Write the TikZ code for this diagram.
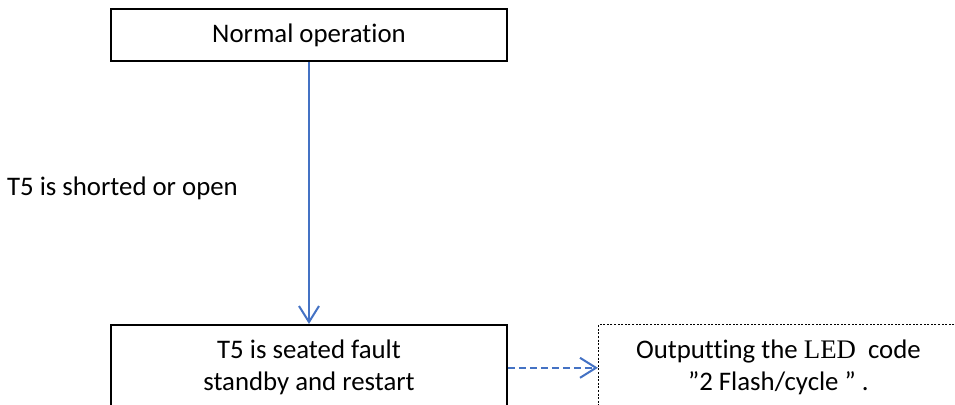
\documentclass[tikz,border=0pt]{standalone}
\usepackage{fontspec}
\setmainfont[Ligatures={NoCommon}]{Carlito}
\newfontfamily\ledfont{Liberation Serif}
\usetikzlibrary{positioning,arrows.meta}
\definecolor{arrowblue}{RGB}{68,114,196}

\begin{document}
\begin{tikzpicture}[x=0.5pt, y=-0.5pt,
    font=\fontsize{13.4}{16}\selectfont,
    box/.style={draw, line width=0.9pt, minimum width=198pt, align=center},
    flow/.style={draw=arrowblue, line width=1pt, -{Straight Barb[length=8pt,width=10pt]}}]
    \useasboundingbox (0,0) rectangle (955,404);
    \clip (0,0) rectangle (955,404);

    \node (normal) [box, minimum height=26pt] at (309,35) {Normal operation};
    \node (fault) [box, minimum height=43pt, below=131pt of normal] {T5 is seated fault\\standby and restart};
    \node (led) [box, line width=0.5pt, dash pattern=on 1pt off 0.8pt, minimum width=180pt,
        minimum height=43pt, right=45pt of fault] {Outputting the {\ledfont LED}\ \ code\\”2 Flash/cycle ” .};
    \node (cond) [anchor=west] at (0,188) {T5 is shorted or open};

    \path[flow] (normal) edge (fault);
    \path[flow, dash pattern=on 3.5pt off 2pt] (fault) edge (led);
\end{tikzpicture}
\end{document}
